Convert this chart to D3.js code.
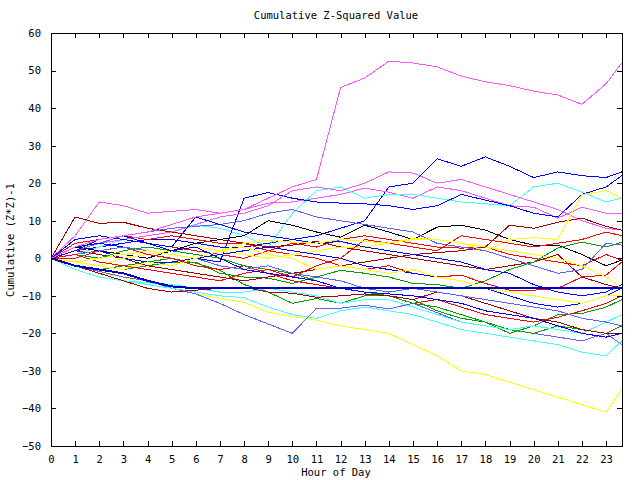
<!DOCTYPE html>
<html><head><meta charset="utf-8">
<script src="https://cdn.jsdelivr.net/npm/d3@7"></script>
<style>body{margin:0;background:#fff}svg{display:block}text{font-family:"DejaVu Sans Mono",monospace;font-size:10.5px;fill:#000}</style>
</head><body>
<svg id="c" width="640" height="480"></svg>
<script>
const hours = [0,1,2,3,4,5,6,7,8,9,10,11,12,13,14,15,16,17,18,19,20,21,22,23,23.65];
const xTicks = d3.range(0,24);
const yTicks = d3.range(-50,61,10);
const colors = {R:"#ff0000",DR:"#a00000",G:"#00a000",B:"#0000ff",LB:"#6060ff",M:"#ff55ff",C:"#40ffff",Y:"#ffff00",K:"#000000",NB:"#0000c0"};

const M1 = [0,3,5,6,7,9,11,12,13,16,19,21,45.5,48,52.5,52,51,48.5,47,46,44.5,43.5,41,46.5,52];
const M2 = [0,6,15,14,12,12.5,13,12,13,14.7,15,16,17,18.7,17.6,16,19,18,16,14,13.6,10.7,13.6,12,12];
const M3 = [0,2,4,5,6,7,9,11,12,14,18,19,18,20,23,22.7,20,21,19,17,15,13,10,8,7.5];
const C1 = [0,1,3,5,6,7,8.8,8,6,3,12,18,19,16,17,17,16,15,14.5,14,19,20,17.6,15,16];
const C2 = [0,-3,-5,-6,-7,-8,-9,-10,-10.5,-13,-15,-16,-14,-13,-14,-15,-17,-19,-20,-21,-22,-23,-25,-26,-22];
const C3 = [0,-2,-4,-6,-6.5,-7,-8,-9,-9,-8,-9,-10,-12,-11,-11,-13,-15,-17,-18,-19,-18,-19,-20,-17,-15];
const Y1 = [0,-2,-4,-5,-7,-8,-9.5,-10.7,-11.7,-14.4,-15.5,-16.5,-18,-19,-20,-23,-26,-30,-31,-33,-35,-37,-39,-41,-35];
const Y2 = [0,-1,-2,0,1,2,3,2,1,0,1,2,3,3,4,5,5,4,2,5,5.5,5,17,18,16];
const Y3 = [0,-1,-2,-3,-1,-2,0,2,3,1,0,-3,-2,-3,-4,-3,-5,-6,-8,-9,-10,-11,-12,-10,-10];
const Y4 = [0,-1,0,1,2,1,0,2,4,4.8,4.3,4,5,4.5,4,5.3,5,4,3,2,1,0,-2,-5,-8];
const B1 = [0,2,3,4,5,5,4,3,3,4,5,6,8,10,19,20,26.5,24.5,27,24.5,21.5,23,22,21.5,23];
const B2 = [0,1,2,0,-1,-1,0,-1,16,17.5,16,15,14.7,14.5,14,13,14,17,15.5,14,12,11,17,19,22];
const B3 = [0,3,4,3,2,1,0,1,2,3,2,1,0,-2,-3,-4,-5,-6,-8,-10,-12,-13,-12,-10,-8];
const B4 = [0,5,6,5,4,3,11,9,7,6,5,4,4.5,3,2,1,0,-1,-3,-4,-7,-9,-10,-9,-7];
const B5 = [0,2,5,6,4,2,3,0,-3,-4,-5,-6,-8,-9,-9.5,-10,-11,-12,-14,-15,-16,-18,-20,-21,-20];
const NB = [0,-2,-3,-4,-6,-7.5,-8,-8,-8,-8,-8,-8,-8,-8,-8,-8,-8,-8,-8,-8,-8,-8,-8,-8,-8];
const K1 = [0,3,2,1,0,2,4,5,6,10,8.8,7,5.6,8.8,7,5,8.3,8.8,7.5,5,3.5,3.5,1,-2,-0.5];
const G1 = [0,-2,-3,-2,-1,0,-1.3,-3.2,-7,-9,-12,-10.7,-12,-10,-10,-11,-14,-16,-17,-20,-18,-15,-14.7,-13,-11];
const G2 = [0,-1,-2,-3,-2,-1,-1,-4,-5,-5.3,-6.7,-5,-3.2,-4,-5,-6.7,-7,-8,-6,-3,-1,2.7,4.3,3,4.3];
const G3 = [0,1,0,2,3,2,1,0,-2,-3,-4,-6,-8,-9,-10,-12,-13,-15,-17,-19,-20,-18,-19,-20,-18];
const R1 = [0,5,6,5,4,3,2,1,0,2,4,3,5,6,5,4,3,2.7,3,1,0,-1,-2,1,-0.5];
const R2 = [0,4,5,6,5,6,5,4,4,2,1,0,-2,-3,-2,-4,-5,-4.5,-6.7,-8.5,-8.5,-8,-5,-4.5,-1];
const R3 = [0,0,2,3,1,0,-2,-3,-2,-4,-6,-7,-8,-9,-10,-12,-11,-13,-15,-16,-17,-15.7,-14,-12,-10];
const R4 = [0,1,-1,-2,-3,-4,-5,-6,-4,-3,-5,-2,0,5,4,3,2,6,5,4,3,4,5,7,6];
const DR1 = [0,11,9.3,9.6,8,7,6,5,4,3,3.5,4.5,3,2,1,0,-1,-2,-3,-2,-1,1,-5,-7,-8];
const DR2 = [0,2,1,0,-2,-3,-4,-5,-6,-5,-4,-3,-2,-1,0,1,1.5,2,3,8.8,8,9.6,10.7,8.5,7.5];
const DR3 = [0,-2,-4,-6,-8,-9,-8.5,-8,-7.7,-9,-9.3,-10.4,-10,-9.5,-10,-11,-9,-10,-12,-14,-16,-17,-19,-20,-20];
const LB1 = [0,-2,-3.5,-5,-6,-8,-9.5,-12,-15,-17.5,-20,-13.3,-13.3,-12.5,-13.5,-12,-14.5,-17,-18,-19,-20,-21,-22,-20,-23];
const LB2 = [0,2,4,6,7,8,8.5,9,10,12,13,11,10,9,8,7,4,3,2,0,-2,-4,-3,4,3.5];
const LB3 = [0,1,2,3,2,1,0,-2,-3,-2,-4,-5,-6,-8,-9,-8,-9,-10,-11,-12,-13,-14,-16,-17,-18];

const series = [
 ["R",R1],["G",G1],["B",B1],["M",M2],["C",C1],["DR",DR1],["Y",Y1],["LB",LB1],["K",K1],
 ["R",R2],["G",G2],["B",B2],["M",M3],["C",C2],["DR",DR2],["Y",Y2],["LB",LB2],
 ["R",R3],["G",G3],["B",B3],["C",C3],["DR",DR3],["Y",Y3],["LB",LB3],
 ["R",R4],["B",B4],["Y",Y4],["B",B5],["M",M1],["NB",NB]
];

const svg = d3.select("#c");
const x = d3.scaleLinear().domain([0,23.66]).range([51,622]);
const y = d3.scaleLinear().domain([-50,60]).range([446,33]);

const line = d3.line().x((d,i)=>x(hours[i])).y(d=>y(d));
svg.append("g").selectAll("path").data(series).join("path")
  .attr("d",d=>line(d[1])).attr("fill","none")
  .attr("stroke",d=>colors[d[0]])
  .attr("stroke-width",d=>d[0]==="NB"?2:1)
  .attr("shape-rendering","crispEdges");

svg.append("rect").attr("x",51).attr("y",33).attr("width",571).attr("height",413)
  .attr("fill","none").attr("stroke","#000").attr("shape-rendering","crispEdges");

const axB = d3.axisBottom(x).tickValues(xTicks).tickSize(-5).tickPadding(10).tickFormat(d3.format("d"));
const axT = d3.axisTop(x).tickValues(xTicks).tickSize(-5).tickFormat("");
const axL = d3.axisLeft(y).tickValues(yTicks).tickSize(-5).tickPadding(10).tickFormat(d3.format("d"));
const axR = d3.axisRight(y).tickValues(yTicks).tickSize(-5).tickFormat("");
function style(g){g.select(".domain").remove();g.selectAll("line").attr("stroke","#000").attr("shape-rendering","crispEdges");g.selectAll("text").attr("font-family","DejaVu Sans Mono, monospace").attr("font-size",10.5).attr("fill","#000");}
svg.append("g").attr("transform","translate(0,446)").call(axB).call(style);
svg.append("g").attr("transform","translate(0,33)").call(axT).call(style);
svg.append("g").attr("transform","translate(51,0)").call(axL).call(style);
svg.append("g").attr("transform","translate(622,0)").call(axR).call(style);

svg.append("text").attr("x",336).attr("y",19).attr("text-anchor","middle").text("Cumulative Z-Squared Value");
svg.append("text").attr("x",336).attr("y",476).attr("text-anchor","middle").text("Hour of Day");
svg.append("text").attr("transform","translate(14,240) rotate(-90)").attr("text-anchor","middle").text("Cumulative (Z*Z)-1");
</script>
</body></html>
